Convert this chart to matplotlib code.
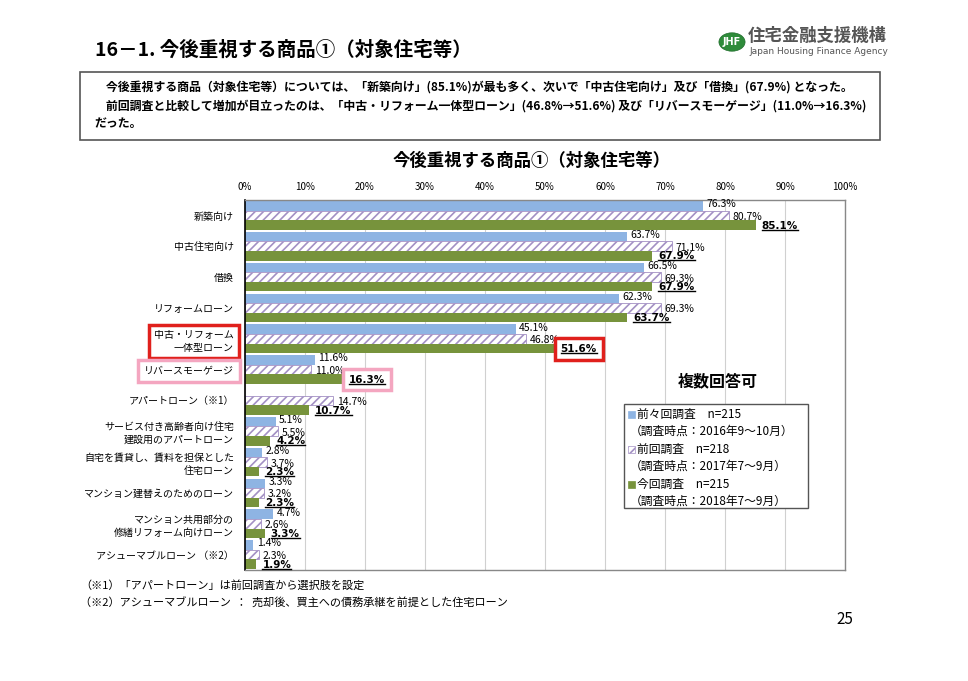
import numpy as np
import matplotlib
matplotlib.use("Agg")
import matplotlib.pyplot as plt
from matplotlib.patches import Rectangle, Circle
from matplotlib.lines import Line2D

plt.rcParams['font.family'] = ['Noto Sans CJK JP', 'DejaVu Sans']
plt.rcParams['hatch.linewidth'] = 1.2

categories = [
    "新築向け",
    "中古住宅向け",
    "借換",
    "リフォームローン",
    "中古・リフォーム\n一体型ローン",
    "リバースモーゲージ",
    "アパートローン（※1）",
    "サービス付き高齢者向け住宅\n建設用のアパートローン",
    "自宅を賃貸し、賃料を担保とした\n住宅ローン",
    "マンション建替えのためのローン",
    "マンション共用部分の\n修繕リフォーム向けローン",
    "アシューマブルローン （※2）",
]

survey_2016 = [76.3, 63.7, 66.5, 62.3, 45.1, 11.6, np.nan, 5.1, 2.8, 3.3, 4.7, 1.4]
survey_2017 = [80.7, 71.1, 69.3, 69.3, 46.8, 11.0, 14.7, 5.5, 3.7, 3.2, 2.6, 2.3]
survey_2018 = [85.1, 67.9, 67.9, 63.7, 51.6, 16.3, 10.7, 4.2, 2.3, 2.3, 3.3, 1.9]

series_names = ["前々回調査　n=215", "前回調査　n=218", "今回調査　n=215"]
series_dates = ["（調査時点：2016年9～10月）", "（調査時点：2017年7～9月）", "（調査時点：2018年7～9月）"]

xticks = [0, 10, 20, 30, 40, 50, 60, 70, 80, 90, 100]

W, H = 968, 681
fig = plt.figure(figsize=(W / 100, H / 100), dpi=100)

def fx(px):
    return px / W

def fy(py):
    return 1 - py / H

# ---- header ----
fig.text(fx(95), fy(50), "16－1. 今後重視する商品①（対象住宅等）", fontsize=14, fontweight='bold',
         va='center', ha='left')
logo = Circle((fx(732), fy(42)), 0.0135, transform=fig.transFigure, facecolor='#2E8B3A',
              edgecolor='#1E6B2A', lw=0.5)
fig.patches.append(logo)
fig.text(fx(732), fy(42), "JHF", color='white', fontsize=7, fontweight='bold', ha='center', va='center',
         family='DejaVu Sans')
fig.text(fx(748), fy(36), "住宅金融支援機構", color='#555555', fontsize=12.5, fontweight='bold', ha='left', va='center')
fig.text(fx(749), fy(52), "Japan Housing Finance Agency", color='#555555', fontsize=6.5, ha='left', va='center',
         family='DejaVu Sans')

box = Rectangle((fx(80), fy(140)), fx(880) - fx(80), fy(72) - fy(140), transform=fig.transFigure,
                facecolor='white', edgecolor='#555555', lw=1.2)
fig.patches.append(box)
fig.text(fx(94), fy(87), "　今後重視する商品（対象住宅等）については、「新築向け」(85.1%)が最も多く、次いで「中古住宅向け」及び「借換」(67.9%) となった。",
         fontsize=8.6, fontweight='bold', va='center', ha='left')
fig.text(fx(94), fy(106), "　前回調査と比較して増加が目立ったのは、「中古・リフォーム一体型ローン」(46.8%→51.6%) 及び「リバースモーゲージ」(11.0%→16.3%)",
         fontsize=8.6, fontweight='bold', va='center', ha='left')
fig.text(fx(94), fy(124), "だった。", fontsize=8.6, fontweight='bold', va='center', ha='left')

fig.text(fx(532), fy(161), "今後重視する商品①（対象住宅等）", fontsize=12.5, fontweight='bold', ha='center', va='center')

# ---- axes ----
ax = fig.add_axes([fx(245), fy(570), fx(845) - fx(245), fy(200) - fy(570)])
n = len(categories)
y = np.arange(n)
h = 0.31
blue = '#8EB4E3'
purple = '#A390C4'
green = '#77933C'

ax.barh(y - h, survey_2016, height=h, color=blue, edgecolor='none', zorder=2)
ax.barh(y, survey_2017, height=h, facecolor='white', edgecolor=purple, hatch='////', lw=0.6, zorder=2)
ax.barh(y + h, survey_2018, height=h, color=green, edgecolor='none', zorder=2)

ax.set_xlim(0, 100)
ax.set_ylim(n - 0.5, -0.5)
ax.set_xticks(xticks)
ax.set_xticklabels([f"{t}%" for t in xticks], fontsize=7)
ax.xaxis.tick_top()
ax.tick_params(axis='x', length=0, pad=6)
ax.tick_params(axis='y', length=0, pad=8)
ax.set_yticks(y)
ax.set_yticklabels(categories, fontsize=7.2, linespacing=1.35)
ax.grid(axis='x', color='#D0D0D0', lw=0.8, zorder=0)
for s in ['top', 'right', 'bottom']:
    ax.spines[s].set_color('#888888')
    ax.spines[s].set_linewidth(1.0)
ax.spines['left'].set_color('black')
ax.spines['left'].set_linewidth(1.2)

bold_labels = []
for i in range(n):
    v1, v2, v3 = survey_2016[i], survey_2017[i], survey_2018[i]
    if not np.isnan(v1):
        ax.text(v1 + 0.6, y[i] - h - 0.05, f"{v1:.1f}%", fontsize=7.5, va='center', ha='left', zorder=5)
    ax.text(v2 + 0.6, y[i] + 0.05, f"{v2:.1f}%", fontsize=7.5, va='center', ha='left', zorder=4)
    t3 = ax.text(v3 + 1.0, y[i] + h + 0.02, f"{v3:.1f}%", fontsize=7.5, fontweight='bold',
                 va='center', ha='left', zorder=6, family='DejaVu Sans')
    bold_labels.append(t3)
    if i == 4:
        t3.set_bbox(dict(boxstyle='square,pad=0.55', facecolor='white', edgecolor='#E0201C', lw=2.5))
    if i == 5:
        t3.set_bbox(dict(boxstyle='square,pad=0.55', facecolor='white', edgecolor='#F4A6C0', lw=2.5))

tl = ax.get_yticklabels()
tl[4].set_bbox(dict(boxstyle='square,pad=0.5', facecolor='white', edgecolor='#E0201C', lw=2.5))
tl[5].set_bbox(dict(boxstyle='square,pad=0.6', facecolor='white', edgecolor='#F4A6C0', lw=2.5))

# underline the current-survey labels
fig.canvas.draw()
renderer = fig.canvas.get_renderer()
for t in bold_labels:
    bb = t.get_window_extent(renderer)
    x0, x1 = bb.x0, bb.x1
    yb = bb.y0 + 1.0
    line = Line2D([x0, x1], [yb, yb], transform=None, color='black', lw=1.0, zorder=7)
    fig.lines.append(line)

fig.text(fx(718), fy(381), "複数回答可", fontsize=11.5, fontweight='bold', ha='center', va='center')
lbox = Rectangle((fx(624), fy(508)), fx(808) - fx(624), fy(404) - fy(508), transform=fig.transFigure,
                 facecolor='white', edgecolor='#555555', lw=1.0, zorder=10)
fig.patches.append(lbox)
colors = [blue, 'white', green]
hatches = [None, '////', None]
edges = [blue, purple, green]
for k in range(3):
    yy = 414 + k * 35
    sq = Rectangle((fx(628), fy(yy + 3.5)), fx(7) - fx(0), fy(0) - fy(7), transform=fig.transFigure,
                   facecolor=colors[k], edgecolor=edges[k], hatch=hatches[k], lw=0.5, zorder=11)
    fig.patches.append(sq)
    fig.text(fx(637), fy(yy), series_names[k], fontsize=8.5, ha='left', va='center', zorder=12)
    fig.text(fx(630), fy(yy + 17.5), series_dates[k], fontsize=8.5, ha='left', va='center', zorder=12)

fig.text(fx(80), fy(585), "（※1）「アパートローン」は前回調査から選択肢を設定", fontsize=8, ha='left', va='center')
fig.text(fx(80), fy(603), "（※2）アシューマブルローン  ：  売却後、買主への債務承継を前提とした住宅ローン", fontsize=8, ha='left', va='center')
fig.text(fx(845), fy(619), "25", fontsize=11, ha='center', va='center')

fig.savefig("out.png", dpi=100)
